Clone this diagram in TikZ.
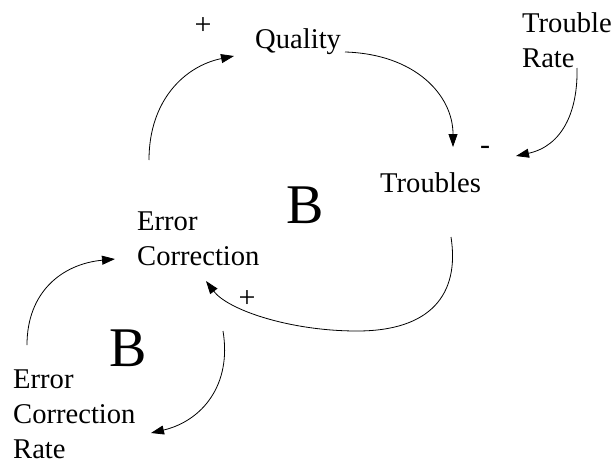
\documentclass[tikz,border=0pt]{standalone}
\usepackage{fontspec}
\setmainfont{Liberation Serif}
\usetikzlibrary{arrows.meta}
\begin{document}
\begin{tikzpicture}[x=1pt,y=-1pt,
  lbl/.style={inner sep=0pt, anchor=base west, align=left, font=\fontsize{28.6}{35}\selectfont},
  sgn/.style={inner sep=0pt, font=\fontsize{30}{34}\selectfont},
  loopB/.style={inner sep=0pt, font=\fontsize{56}{60}\selectfont},
  link/.style={line width=0.8pt, -{Triangle[length=13pt,width=9pt]}}]
\useasboundingbox (0,0) rectangle (612,463);
% variables
\node[lbl] (q) at (255,48) {Quality};
\node[lbl] (t) at (380,192) {Troubles};
\node[lbl] (tr) at (522,67) {Trouble\\Rate};
\node[lbl] (ec) at (137,265) {Error\\Correction};
\node[lbl] (ecr) at (13,458) {Error\\Correction\\Rate};
% loop markers
\node[loopB] (b1) at (305,205) {B};
\node[loopB] (b2) at (128,348) {B};
% polarity signs
\node[sgn] (p1) at (203,26) {+};
\node[sgn] (p2) at (485,150) {-};
\node[sgn] (p3) at (247,299) {+};
% connector ends
\coordinate (ecTop) at (149,160);
\coordinate (qIn) at (234,56);
\coordinate (qOut) at (345,52);
\coordinate (tIn) at (453,147);
\coordinate (trOut) at (577,68);
\coordinate (tSide) at (516,156);
\coordinate (tOut) at (451,237);
\coordinate (ecIn) at (206,281);
\coordinate (ecrOut) at (27,345);
\coordinate (ecLeft) at (115,259);
\coordinate (ecBot) at (223,331);
\coordinate (ecrIn) at (151,433);
% links
\draw[link] (ecTop) .. controls (149,100) and (185,66) .. (qIn);
\draw[link] (qOut) .. controls (415,54) and (453,95) .. (tIn);
\draw[link] (trOut) .. controls (578,112) and (562,146) .. (tSide);
\draw[link] (tOut) .. controls (460,295) and (430,331) .. (357,331)
  .. controls (290,331) and (228,310) .. (ecIn);
\draw[link] (ecrOut) .. controls (27,292) and (62,264) .. (ecLeft);
\draw[link] (ecBot) .. controls (232,385) and (202,421) .. (ecrIn);
\end{tikzpicture}
\end{document}
